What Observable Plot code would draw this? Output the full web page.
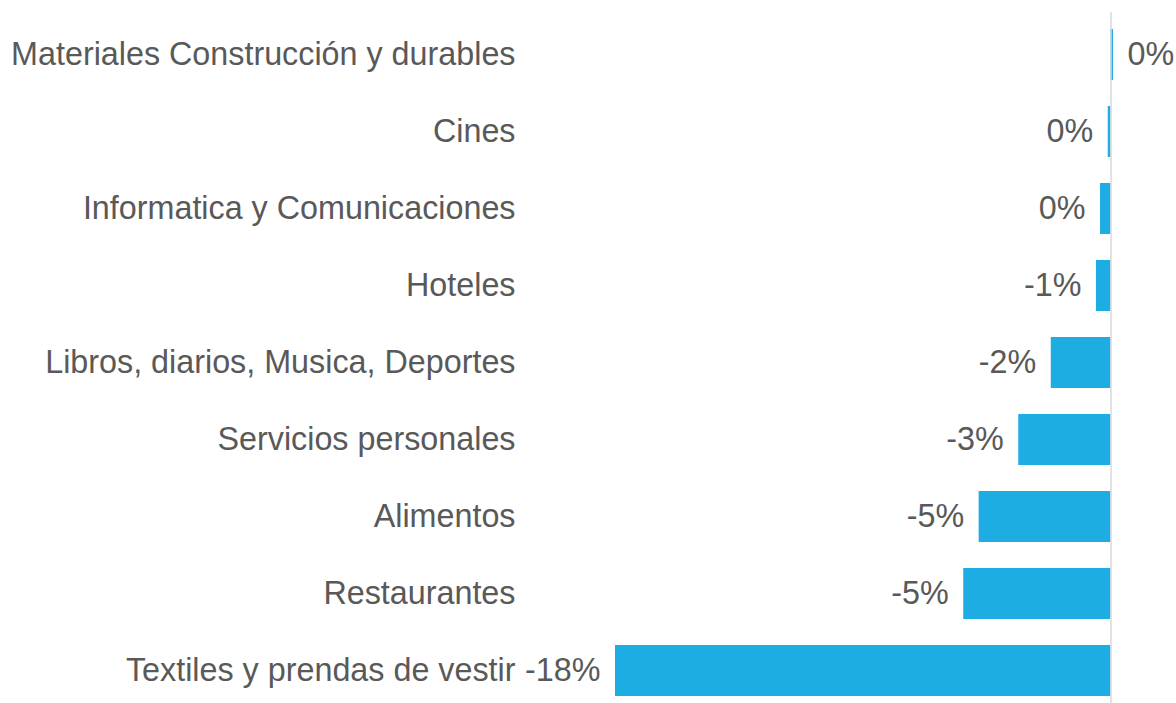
<!DOCTYPE html>
<html>
<head>
<meta charset="utf-8">
<script src="https://cdn.jsdelivr.net/npm/d3@7"></script>
<script src="https://cdn.jsdelivr.net/npm/@observablehq/plot@0.6"></script>
<style>
  html, body { margin: 0; padding: 0; background: #fff; }
  #chart svg { display: block; }
</style>
</head>
<body>
<div id="chart"></div>
<script>
const categories = [
  "Materiales Construcción y durables",
  "Cines",
  "Informatica y Comunicaciones",
  "Hoteles",
  "Libros, diarios, Musica, Deportes",
  "Servicios personales",
  "Alimentos",
  "Restaurantes",
  "Textiles y prendas de vestir"
];
const values = [0.09, -0.1, -0.38, -0.53, -2.17, -3.35, -4.79, -5.35, -18.0];
const valueLabels = ["0%", "0%", "0%", "-1%", "-2%", "-3%", "-5%", "-5%", "-18%"];

const data = categories.map((c, i) => ({ category: c, value: values[i], label: valueLabels[i] }));

const FS = 32.3;
const chart = Plot.plot({
  width: 1176,
  height: 703,
  marginLeft: 527,
  marginRight: 0,
  marginTop: 12,
  marginBottom: 0,
  style: { fontFamily: "'Liberation Sans', Arial, sans-serif", color: "#595959", background: "#fff" },
  x: { domain: [-18, 0], range: [615, 1110.5], axis: null },
  y: { domain: categories, range: [-1, 726], padding: 0.333, label: null },
  marks: [
    Plot.barX(data, { y: "category", x: "value", fill: "#1eade3" }),
    Plot.ruleX([0], { stroke: "#d9d9d9", strokeWidth: 1.5 }),
    Plot.text(data.filter(d => d.value < 0), {
      y: "category", x: "value", text: "label", textAnchor: "end", dx: -15,
      fontSize: FS, fill: "#595959"
    }),
    Plot.text(data.filter(d => d.value >= 0), {
      y: "category", x: "value", text: "label", textAnchor: "start", dx: 14,
      fontSize: FS, fill: "#595959"
    }),
    Plot.axisY({ tickSize: 0, tickPadding: 12, fontSize: FS, label: null, fill: "#595959" })
  ]
});
document.getElementById("chart").appendChild(chart);
</script>
</body>
</html>
